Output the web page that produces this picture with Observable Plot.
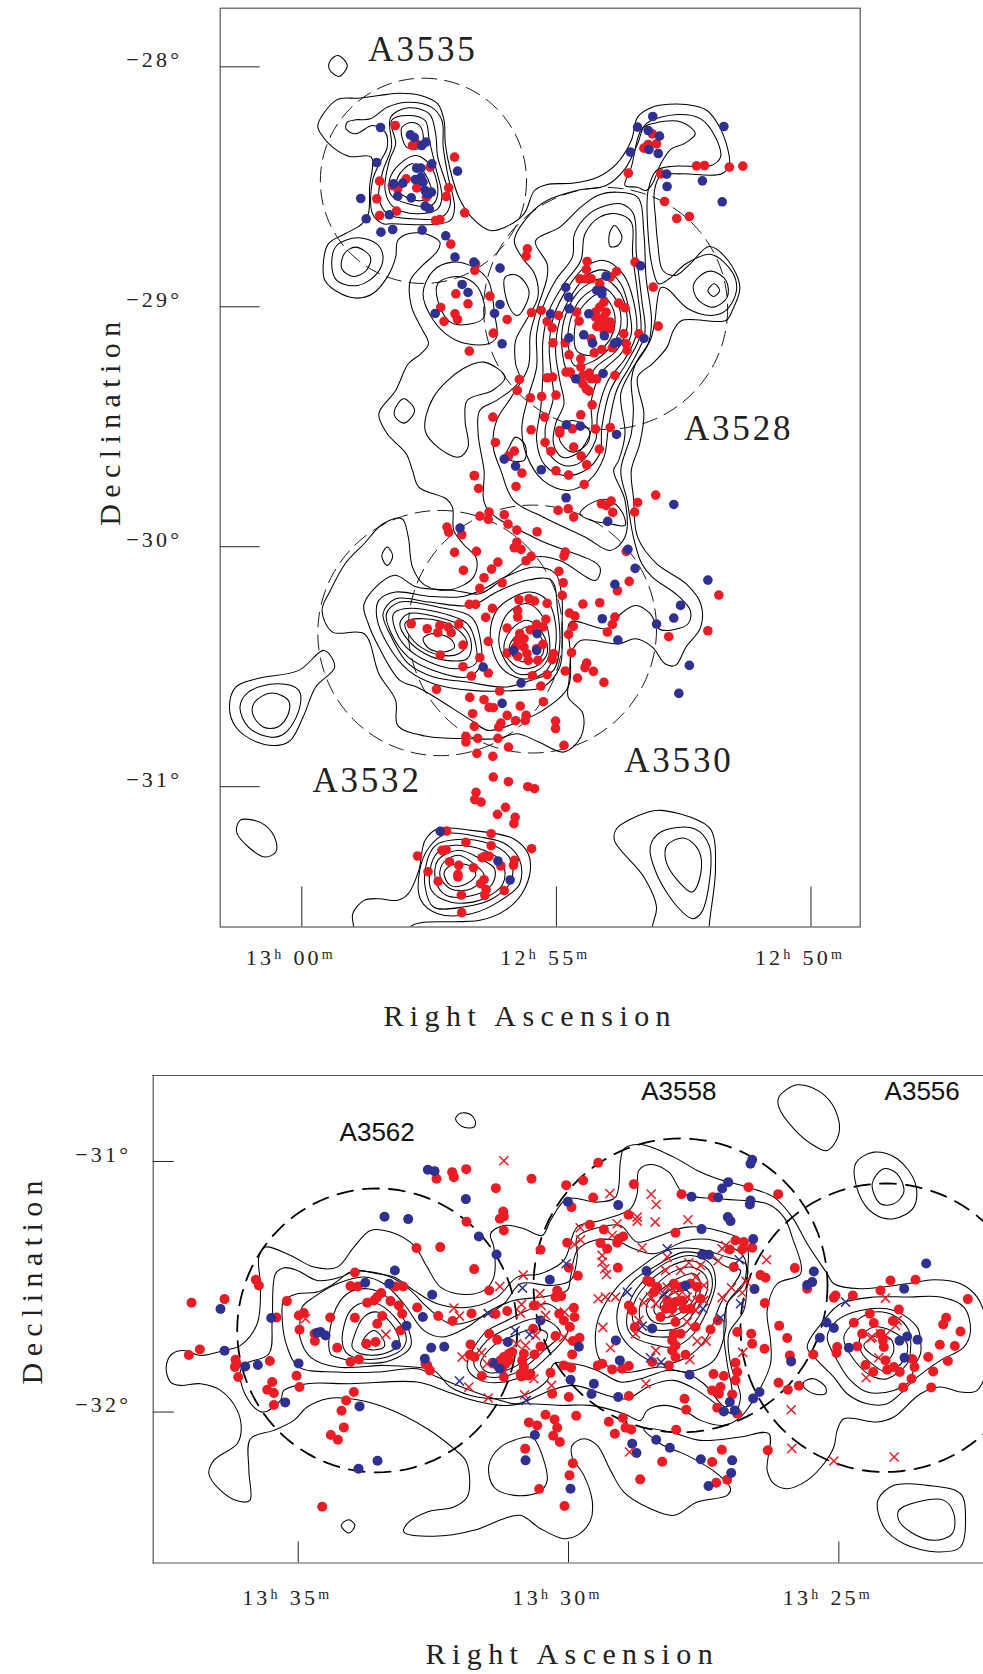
<!DOCTYPE html>
<html><head><meta charset="utf-8">
<script src="https://cdn.jsdelivr.net/npm/d3@7"></script>
<script src="https://cdn.jsdelivr.net/npm/@observablehq/plot@0.6"></script>
<style>
html,body{margin:0;padding:0;background:#fff;overflow:hidden}
svg{display:block}
[aria-label="x-axis tick label"] text,[aria-label="y-axis tick label"] text{letter-spacing:3.2px}
</style></head><body><div id="top"></div><div id="bottom"></div>
<script>
// Digitised plate readings (flat x,y lists); calibrated to RA (minutes) and Dec (degrees) from the tick marks below.
const topRA = x => 780 - (x - 217) / 121;
const topDec = y => -28 - (y - 199) / 720;
const botRA = x => 815 - (x - 443) / 162.2;
const botDec = y => -31 - (y - 273) / 752;
const LOWER = 1410, RIGHT = 1170;

const topTicksRA = [780, 775, 770];
const topTickLabelsRA = ["13h 00m", "12h 55m", "12h 50m"];
const topTicksDec = [-28, -29, -30, -31];
const botTicksRA = [815, 810, 805];
const botTickLabelsRA = ["13h 35m", "13h 30m", "13h 25m"];
const botTicksDec = [-31, -32];
const decLabel = d => "\u2212" + Math.abs(d) + "\u00b0";

const topNames = ["A3535", "A3528", "A3530", "A3532"];
const topNameX = [505, 1255, 1113, 372];
const topNameY = [147, 1285, 2280, 2340];
const botNames = ["A3562", "A3558", "A3556"];
const botNameX = [680, 1585, 2315];
const botNameY = [188, 65, 65];

// cluster circles: centre x, centre y, x radius, y radius
const topCircles = [[506,541,245,308],[939,924,290,363],[765,1886,295,372],[546,1898,291,368]];
const botCircles = [[680,780,420,426],[1590,645,441,441],[2205,772,435,433]];

const topContours = [
[255,375,300,298,350,293,400,285,450,278,500,285,540,310,555,360,558,430,570,510,590,590,620,650,665,690,700,680,745,640,770,570,800,552,860,548,920,530,965,490,1000,420,1015,350,1050,320,1130,312,1180,330,1210,380,1228,440,1233,490,1215,520,1120,520,1070,525,1055,570,1058,660,1063,730,1075,810,1105,825,1140,790,1185,738,1230,780,1258,860,1240,930,1225,960,1120,960,1100,990,1085,1040,1050,1090,1015,1130,1030,1240,1020,1330,1000,1410,1005,1490,1015,1610,1060,1690,1130,1750,1165,1810,1165,1880,1130,1940,1105,1995,1080,1990,1050,1940,1010,1915,970,1930,880,1920,860,1950,852,2040,850,2090,885,2140,880,2210,840,2255,780,2225,730,2200,680,2215,620,2215,510,2207,445,2175,440,2100,400,2020,365,1900,290,1895,265,1830,285,1770,320,1690,365,1630,410,1570,455,1555,470,1610,480,1700,510,1755,570,1768,625,1730,632,1675,600,1630,578,1590,575,1520,560,1495,495,1460,480,1410,465,1360,420,1300,400,1240,440,1170,470,1090,500,1060,518,1030,500,980,478,920,475,840,500,800,540,750,545,725,510,700,470,700,445,720,440,770,420,830,385,880,350,893,310,880,272,840,268,790,280,730,320,700,360,670,375,640,378,560,382,470,330,468,290,440,265,405],
[722,720,760,640,800,600,870,570,940,555,985,505,1015,430,1035,370,1110,342,1165,355,1200,410,1212,470,1190,495,1100,497,1060,510,1040,570,1040,700,1050,800,1065,850,1090,835,1130,790,1190,762,1240,815,1250,870,1225,930,1190,945,1135,925,1085,865,1070,862,1055,970,1045,1020,1010,1090,1000,1140,1005,1230,1000,1300,975,1410,990,1500,1005,1610,1025,1690,1050,1730,1110,1785,1140,1830,1135,1870,1090,1890,1065,1885,1045,1840,1010,1815,975,1840,945,1885,855,1865,855,1960,850,2060,790,2130,730,2165,660,2190,620,2160,520,2080,490,2060,450,2040,400,1940,375,1870,365,1810,435,1725,490,1760,580,1770,640,1780,700,1730,770,1670,830,1680,915,1740,925,1700,775,1615,655,1520,650,1410,636,1300,640,1230,680,1200,735,1140,725,1090,725,1020,750,960,778,890,770,820,740,770],
[1025,385,1055,368,1120,365,1152,400,1125,430,1095,445,1070,490,1050,550,1035,570,1015,560,985,555,1000,500],
[965,575,1015,590,1030,700,1035,830,1048,960,1040,1030,1000,1110,975,1180,985,1300,970,1380,958,1410,985,1500,985,1610,950,1650,890,1610,790,1550,720,1500,690,1410,672,1340,680,1260,715,1190,755,1100,760,1000,775,930,800,830,800,790,772,722,830,680,880,620,920,585],
[975,610,1005,640,1012,760,1025,900,1032,1000,1000,1090,965,1170,945,1290,935,1370,900,1440,850,1470,790,1440,750,1360,740,1280,755,1190,775,1100,775,1000,790,920,820,840,860,770,865,700,900,640,940,615],
[965,640,1000,665,1003,760,1015,880,1022,1000,990,1085,950,1170,930,1280,925,1360,890,1410,840,1425,795,1395,775,1320,785,1220,790,1120,790,1020,805,930,840,850,880,780,890,700,925,650],
[935,780,980,820,1005,900,1012,1000,985,1075,945,1140,920,1240,915,1320,880,1385,840,1395,805,1360,795,1290,815,1190,810,1120,805,1040,815,950,850,860,890,800],
[940,810,975,850,995,930,1000,1000,975,1060,930,1115,905,1200,905,1290,870,1360,835,1370,815,1330,820,1270,840,1210,830,1140,820,1050,830,960,860,880,900,820],
[860,1260,900,1290,895,1330,860,1355,830,1320,835,1280],
[935,835,975,880,990,980,965,1050,920,1095,880,1150,850,1120,835,1040,840,960,870,880,905,845],
[930,860,965,900,975,975,950,1040,905,1085,865,1095,850,1030,855,960,880,895],
[925,880,955,920,960,980,935,1040,900,1065,870,1050,865,990,880,925],
[960,675,978,710,968,735,950,738,948,700],
[710,1340,725,1310,748,1335,745,1380,700,1372],
[700,1130,650,1085,600,1105,530,1190,510,1290,540,1340,590,1370,612,1340,605,1260,610,1200,670,1170],
[460,1195,485,1230,460,1268,437,1245,445,1210],
[303,165,325,195,305,228,282,205,285,180],
[345,358,380,355,420,320,470,305,525,320,550,360,553,440,565,530,580,620,570,660,530,672,430,670,410,670,385,640,385,540,405,480,420,440,415,395,385,375,345,400,322,385,325,365],
[428,350,470,322,520,340,535,400,540,470,560,550,570,610,550,650,480,655,420,640,400,590,410,510,430,440],
[430,360,470,345,510,360,520,420,535,500,550,590,540,625,490,640,435,620,415,570,425,480,440,430],
[455,380,478,366,500,380,502,440,468,442,455,410],
[490,465,525,500,540,580,525,615,470,610,430,585,425,540,450,490],
[480,490,510,520,525,590,490,600,445,570,445,530],
[345,740,380,770,370,810,340,828,312,805,318,760],
[350,712,395,730,410,770,395,820,350,855,300,840,288,790,300,735],
[575,785,625,800,660,840,675,940,680,1010,660,1030,610,1030,570,1010,530,960,505,880,530,810],
[610,835,640,870,650,950,620,970,570,965,540,900,540,850,570,830],
[700,830,730,825,757,875,730,945,710,920],
[1197,850,1210,870,1195,888,1182,870],
[1190,812,1225,840,1228,890,1195,920,1160,900,1147,860,1160,830]
];
const topLowerContours = [
[878,130,905,98,945,88,978,125,985,165,950,160,905,150],
[440,365,520,378,600,378,650,355,700,320,770,290,820,310,835,380,835,470,830,590,790,650,730,660,620,660,530,640,470,600,420,520,395,440,400,390],
[440,385,520,395,620,405,680,365,750,330,810,330,825,420,830,520,815,600,760,630,700,650,610,635,530,620,470,580,430,500,410,430],
[450,395,540,410,620,440,640,500,640,590,610,620,530,600,470,560,430,490,418,430],
[460,415,540,425,610,460,630,520,630,580,580,595,520,575,465,530,437,470,435,430],
[470,430,540,440,600,470,620,520,610,565,560,570,510,550,470,510,450,460],
[475,448,540,450,590,480,610,520,590,550,550,555,500,530,470,490,462,460],
[505,505,525,490,570,505,580,530,555,545,520,535],
[760,365,800,390,820,460,815,560,790,610,740,625,690,590,665,500,680,420,720,380],
[755,400,785,430,805,500,800,570,770,605,730,610,700,570,685,510,700,440,725,410],
[755,450,790,490,800,550,770,590,730,590,700,550,700,510,725,465],
[750,470,785,500,790,550,760,575,725,565,710,530,730,490],
[270,540,295,590,250,650,220,740,190,810,160,825,110,815,60,770,45,710,60,650,110,625,210,600],
[160,640,210,660,210,720,175,790,140,800,90,770,70,710,90,665],
[145,668,185,690,185,730,160,770,125,770,100,730,105,695],
[420,230,433,257,420,285,407,257],
[90,1047,130,1065,155,1110,155,1145,130,1160,90,1130,62,1085,70,1050],
[1050,1370,1060,1310,1030,1220,960,1110,965,1075,1040,1025,1070,1020,1150,1045,1190,1080,1200,1200,1185,1370,1185,1450,1050,1450],
[1070,1085,1150,1075,1185,1125,1185,1240,1165,1330,1145,1345,1110,1310,1060,1210,1045,1130],
[1125,1103,1160,1140,1165,1210,1145,1265,1110,1230,1082,1170,1085,1125],
[340,1370,338,1330,365,1290,400,1285,445,1290,470,1270,495,1200,510,1110,540,1075,620,1080,720,1105,755,1150,760,1200,740,1270,700,1320,640,1350,500,1357,475,1370,475,1450,340,1450],
[560,1090,640,1100,700,1120,735,1170,735,1240,690,1290,620,1330,540,1330,500,1290,497,1200,520,1130],
[570,1110,650,1115,710,1160,715,1230,670,1285,600,1310,530,1310,510,1250,515,1170,535,1125],
[580,1125,650,1140,695,1180,695,1240,640,1290,570,1295,525,1260,525,1180,545,1140],
[590,1140,640,1165,675,1195,670,1240,625,1275,560,1275,535,1230,540,1170],
[590,1155,630,1185,650,1215,620,1255,570,1255,545,1215,555,1175],
[590,1180,620,1190,630,1215,600,1245,570,1245,555,1210,565,1190]
];
const topRedUpper = [439,375,580,470,402,542,395,595,402,645,442,632,432,555,445,565,465,535,490,562,513,590,560,588,566,562,522,500,480,435,490,430,535,660,545,657,604,637,571,731,753,745,750,767,630,790,628,810,583,880,612,910,547,921,581,940,587,957,555,963,664,887,705,957,672,998,615,1052,763,936,786,930,800,963,812,982,827,945,870,935,876,962,814,1027,843,1027,852,1063,880,1075,855,1115,880,1100,845,1115,885,1125,900,1118,905,1135,918,1135,885,1150,893,1165,900,1172,961,1125,800,1132,813,1130,734,1137,729,1170,760,1192,787,1188,821,1184,907,1213,880,1243,794,1250,671,1250,762,1288,830,1290,830,1298,860,1285,915,1286,950,1281,795,1326,809,1353,863,1340,924,1346,881,1367,894,1393,677,1326,722,1352,708,1367,740,1418,821,1411,851,1424,627,1426,895,783,893,807,878,835,892,835,905,835,965,813,950,830,925,850,935,905,925,920,915,935,940,935,915,950,935,950,950,965,925,965,940,975,918,978,950,985,935,990,982,1000,970,908,985,922,1009,785,1052,860,1064,977,1018,1000,988,1030,990,1050,955,1042,930,1047,912,1057,905,1015,1108,654,1138,648,1079,603,1070,520,993,518,1030,443,1040,432,1060,430,1050,400,1155,496,1174,495,1233,500,1265,497];
const topBlueUpper = [404,381,475,403,484,411,512,425,502,435,395,486,526,490,490,503,500,503,587,512,487,537,500,530,505,545,435,550,457,548,510,570,525,575,515,580,445,587,477,592,510,617,520,625,357,594,425,643,370,655,405,695,433,687,503,689,559,706,581,770,626,785,688,803,598,852,612,876,688,912,675,939,534,939,693,1030,844,861,851,890,853,925,899,940,808,940,940,827,918,870,930,870,930,880,887,1003,936,1006,852,1012,908,1028,968,1025,960,1028,1030,1014,933,1119,868,1135,846,1273,879,1277,965,1302,698,1376,725,1397,786,1408,1022,796,1051,348,1015,380,1040,390,1067,407,998,455,1042,447,1064,459,1084,521,1085,558,1169,541,1216,604,1220,378];
const topRedLower = [627,15,637,54,726,48,888,42,1058,74,929,100,940,105,952,92,956,126,1015,96,1008,125,826,120,850,115,863,140,640,137,662,125,660,147,698,133,707,161,728,179,776,184,562,170,566,185,597,193,580,246,632,243,728,215,722,232,738,237,843,245,840,257,762,258,750,271,683,275,668,296,601,300,828,303,650,322,693,337,640,354,838,337,836,375,967,361,995,333,988,243,615,402,630,402,670,414,733,388,757,385,770,392,800,399,885,401,925,397,853,428,866,437,654,441,730,420,730,440,477,460,515,475,545,465,540,487,565,470,572,487,590,461,600,524,660,513,546,554,640,562,705,473,797,447,790,470,775,462,760,478,862,468,851,492,961,440,955,462,943,485,735,490,730,510,745,505,725,530,745,530,790,522,705,548,730,558,752,550,775,535,755,570,778,570,815,550,812,568,858,547,1089,499,1182,481,1208,374,600,589,620,617,660,608,765,616,800,613,843,602,894,578,890,592,910,603,872,623,935,636,785,647,537,657,687,662,616,681,650,688,662,711,672,712,736,707,791,694,623,730,705,735,750,735,748,750,725,751,690,758,685,770,627,768,820,752,820,775,607,798,607,815,635,804,683,804,708,830,840,825,633,849,671,858,672,920,708,934,754,949,770,955,631,966,628,988,643,995,701,1011,682,1032,724,1041,721,1060,561,1082,667,1090,763,1135,667,1126,607,1116,560,1138,550,1140,492,1157,652,1158,645,1162,662,1158,722,1170,720,1185,690,1187,568,1174,590,1185,625,1192,517,1204,588,1212,588,1220,541,1233,650,1228,642,1240,596,1274,655,1258,652,1275,698,1261,597,1327];
const topBlueLower = [593,173,944,153,992,237,1009,294,961,342,1101,102,1182,329,1117,405,1101,443,1060,461,931,445,968,509,1138,585,1113,669,776,490,720,540,775,540,648,590,738,638,693,699,546,1083,683,1172,712,1229,845,82];

const botContours = [
[47,890,65,850,100,840,150,855,222,840,270,825,320,760,330,650,325,560,345,530,420,555,490,590,560,590,610,530,660,480,720,485,790,525,830,590,870,650,940,672,1000,660,1030,620,1030,530,1020,490,1060,465,1120,475,1175,495,1200,450,1250,385,1340,395,1395,380,1410,270,1420,235,1470,222,1570,260,1640,300,1700,325,1790,350,1870,380,1925,440,1970,520,2030,610,2050,640,2130,655,2270,640,2350,628,2430,640,2480,680,2510,760,2515,860,2480,960,2430,965,2370,950,2310,970,2230,1040,2180,1055,2080,1045,2060,1080,2050,1130,2020,1180,1970,1230,1910,1255,1870,1240,1850,1200,1855,1090,1770,1100,1650,1110,1560,1085,1480,1075,1530,1120,1610,1155,1700,1210,1740,1255,1730,1275,1640,1295,1570,1335,1500,1315,1420,1265,1380,1200,1340,1125,1300,1105,1265,1125,1265,1160,1300,1215,1325,1290,1320,1350,1280,1395,1240,1405,1170,1375,1110,1335,1060,1345,970,1380,850,1398,760,1385,770,1360,830,1325,910,1310,950,1280,957,1220,945,1170,910,1135,830,1075,700,1010,600,985,530,985,470,1010,430,1050,370,1080,300,1105,295,1200,298,1290,265,1293,210,1260,175,1210,190,1170,260,1120,272,1080,260,1020,210,960,150,940,90,945,60,935],
[375,610,400,592,440,600,500,630,570,620,620,600,680,610,730,620,790,660,860,700,960,710,1040,680,1100,620,1170,610,1240,570,1280,470,1350,450,1440,415,1460,370,1465,300,1500,282,1555,305,1600,370,1700,385,1850,400,1900,440,1925,500,1950,610,1880,640,1850,720,1860,810,1860,880,1820,970,1770,1040,1720,1065,1650,1050,1600,1020,1540,1005,1490,1020,1470,1050,1420,1030,1320,1005,1230,1005,1130,1000,1050,1005,950,985,880,960,800,935,600,940,470,940,400,960,390,990,340,1025,310,1010,275,950,270,900,285,880,355,850,365,750],
[395,745,400,690,440,670,500,665,550,640,600,605,650,603,720,620,780,660,830,710,900,760,980,745,1060,700,1110,640,1200,645,1260,630,1280,560,1280,500,1350,470,1410,465,1460,515,1530,495,1610,470,1700,480,1785,520,1790,620,1780,720,1735,790,1740,880,1770,980,1750,1030,1710,1010,1640,960,1570,930,1500,945,1430,985,1370,975,1270,945,1200,960,1100,1000,1050,990,960,960,860,920,800,895,680,905,560,905,445,890,410,830],
[448,760,455,710,490,680,560,640,640,620,700,640,760,700,820,780,875,800,950,770,1020,720,1090,690,1170,680,1250,660,1260,620,1280,540,1330,510,1395,510,1450,535,1510,550,1610,510,1690,510,1780,560,1780,640,1730,700,1720,790,1730,880,1745,980,1725,1010,1660,940,1600,905,1550,900,1470,925,1410,935,1340,900,1270,880,1210,880,1190,930,1120,975,1050,985,960,975,900,950,850,900,790,890,700,885,560,890,480,860,448,800],
[1150,1105,1190,1230,1165,1265,1090,1275,1030,1250,1015,1185,1050,1130,1130,1100],
[540,850,550,730,590,670,650,655,710,680,775,780,780,830,720,870,640,878,575,865],
[575,810,600,720,650,695,700,710,765,790,760,830,710,860,630,865,590,850],
[610,800,640,740,680,725,730,770,745,820,700,850,630,850,605,830],
[640,805,670,780,700,810,700,830,660,838,635,825],
[950,890,1000,790,1060,755,1130,720,1190,700,1240,740,1250,790,1200,850,1130,910,1060,935,990,930],
[970,880,1010,810,1080,770,1150,745,1200,755,1230,790,1180,840,1110,900,1050,920,1000,915],
[990,880,1030,825,1090,795,1150,775,1190,790,1170,835,1100,885,1050,905,1010,905],
[915,145,930,128,960,132,975,155,970,170,935,168],
[572,1365,595,1348,613,1365,595,1388]
];
const botRightContours = [
[165,820,175,740,230,650,300,590,380,540,470,535,560,560,615,580,620,620,560,700,555,780,520,870,440,905,360,890,250,905,180,870],
[235,780,235,700,280,630,340,590,430,545,510,560,560,590,600,600,540,700,500,800,440,860,360,880,280,840],
[260,770,270,690,310,630,380,575,450,555,510,580,525,640,500,720,460,790,400,830,330,820,280,800],
[280,760,280,700,320,640,385,590,450,570,505,600,515,650,480,730,430,790,360,800,310,790],
[300,750,300,700,340,650,395,605,450,590,495,615,500,660,465,720,420,770,360,780,320,770],
[320,730,320,700,360,660,410,625,460,610,480,640,470,690,430,740,380,760,340,755],
[340,715,375,670,425,640,460,635,465,675,430,720,385,740,350,735],
[360,700,420,660,445,665,440,695,400,720,365,720],
[800,830,850,750,900,700,1000,680,1100,680,1200,680,1270,710,1290,780,1270,830,1200,870,1130,920,1040,1000,980,1000,920,970,880,920,830,870],
[860,800,890,750,960,720,1060,720,1130,770,1140,810,1140,850,1120,890,1110,930,1060,960,980,965,930,930,890,870],
[910,800,950,750,1000,725,1060,735,1105,780,1110,840,1100,880,1040,925,1000,920,950,880],
[960,800,1000,770,1050,780,1100,820,1090,870,1040,905,1000,885,960,840],
[970,825,1010,795,1050,805,1060,840,1040,870,1005,860],
[790,935,820,925,855,950,855,970,820,970,790,950],
[715,80,770,43,840,65,885,120,895,190,860,240,820,225,760,175,715,110],
[945,280,1000,245,1070,265,1125,340,1120,410,1060,445,1000,430,955,370],
[995,340,1030,295,1070,310,1090,365,1060,400,1020,400],
[1012,1290,1060,1245,1160,1245,1260,1270,1275,1340,1260,1430,1190,1445,1090,1420,1030,1370],
[1075,1320,1130,1295,1210,1290,1240,1330,1235,1390,1180,1410,1110,1385,1075,1350]
];
const botRedLeft = [123,697,222,686,148,837,115,854,255,868,253,890,263,920,258,880,316,628,325,645,378,741,409,692,445,735,460,728,447,778,492,790,493,812,539,741,613,606,600,647,622,648,613,742,560,832,600,875,625,867,648,820,675,815,680,760,695,737,650,697,670,690,680,680,692,668,720,692,745,705,755,730,735,648,758,648,750,780,800,711,863,737,906,752,963,729,798,533,869,530,971,596,1016,660,1060,480,1048,445,1058,423,1060,438,948,454,1170,538,1263,410,1247,344,1298,330,1328,381,1343,277,1143,325,1036,353,905,305,910,320,858,325,947,296,358,872,350,958,365,935,370,968,438,916,447,950,370,1004,610,965,587,990,573,1021,580,1071,541,1094,562,1108,830,885,838,900,825,880,1016,790,960,822,1040,808,958,853,972,860,994,917,1124,1135,1135,1056,1160,1065,1185,1033,1212,1047,1220,1072,1208,1096,1228,1115,1267,1179,1257,1215,1166,1256,1242,1307,515,1309,1277,1036,1255,980,1205,970,1170,828,1152,852,1148,775,1200,907,1135,915,1120,915,1112,918,1150,705,1070,722,1035,731,1250,517,1282,616,1255,592,1318,463,1220,660,1215,680,1232,677,1226,730,1240,750,1258,770,1272,740,1270,712,1215,797,1267,812,1287,802,1265,852,1240,885,1262,892,1342,885,1060,860,1075,850,1085,845,1050,870,1065,880,1040,885,1075,870,1055,895,1060,920,1120,850,1115,870,1120,890,1110,910,1140,910];
const botBlueLeft = [832,298,852,302,946,386,702,439,773,446,985,498,1038,552,1252,394,1198,628,733,600,644,637,716,640,845,673,817,740,768,766,737,824,842,832,881,829,823,865,362,743,210,716,222,841,284,888,322,884,444,879,510,785,525,795,500,787,404,996,627,1008,681,1171,624,1195,1153,1094,1125,1170,1260,1255,1170,750,1072,815,1027,877,1048,895,1285,829,1260,928,1330,940,1323,971];
const botRedCrossLeft = [1060,271,1289,472,1290,508,1272,522,1118,614,1048,648,1168,670,910,713,927,737,1113,702,1110,728,1172,705,1185,735,465,745,706,792,935,860,993,847,955,950,1013,983,1122,973,1203,945,1242,725,1343,685,1098,820,1125,825,1155,795,1240,800,1150,925,1010,880];
const botBlueCrossLeft = [1247,580,1116,653,1013,729,1094,781,1137,792,927,932,1127,990];
const botRedRight = [280,341,423,371,517,380,624,350,713,371,264,433,405,487,190,477,235,505,248,498,230,517,180,518,200,535,232,592,265,977,205,1054,247,1043,223,1090,255,1072,272,1077,407,1078,432,985,437,1018,519,911,550,917,585,930,590,905,585,877,540,950,515,960,535,970,575,972,530,1012,590,1030,673,698,660,614,675,622,763,593,590,785,632,790,635,820,672,835,716,766,740,803,748,855,714,937,742,958,775,946,682,1140,544,1138,515,1175,365,1174,299,1227,527,1237,560,1228,800,655,818,852,880,682,885,675,937,675,1020,660,1050,630,1125,628,1282,686,1075,717,988,730,1000,758,940,757,1057,752,965,790,1217,742,1208,762,1260,783,1243,827,1198,823,1163,860,1222,872,1178,903,1172,951,1113,925,1088,951,1122,890,1115,866,1078,905,1060,890,1035,870,1040,898,975,884,998,905,950,828,890,830,888,848,1030,830,1027,810,1020,790,320,630,330,635,265,705,275,720,283,770,185,880,215,897,245,895,265,887,335,875,385,885,435,853,405,755,400,790,420,790,395,810,405,825,395,840,405,860,465,770,510,777,532,750,580,590,585,510,610,515,635,532,568,537,605,537,360,740,375,715,430,715,480,685,405,695,380,690,340,665,350,650,420,650,450,640,400,640,470,650,425,690,450,715,395,715];
const botBlueRight = [635,268,630,280,563,335,545,354,533,381,453,379,233,404,630,390,628,402,562,440,570,452,483,476,638,506,485,553,505,553,820,603,815,635,800,644,642,656,1157,579,1091,655,858,756,880,773,838,802,925,832,1077,811,1100,798,1131,808,1092,862,752,873,657,965,638,984,568,995,583,1020,550,1023,447,913,233,980,238,870,226,810,335,774,435,645,318,602,275,1120,288,1148,347,1108,388,1132,481,1167,575,1170,572,1208,504,1247];
const botRedCrossRight = [208,369,332,371,347,402,344,455,290,440,290,452,442,448,230,460,215,495,185,555,185,575,193,595,198,612,305,532,195,680,225,680,187,771,210,832,285,790,295,750,310,697,346,840,316,940,555,525,545,535,533,571,678,568,617,633,573,652,605,667,545,681,380,560,445,577,480,585,375,600,420,600,465,620,490,645,350,660,330,680,380,650,400,660,415,675,440,680,470,690,395,730,410,700,440,755,465,720,490,690,345,700,470,812,497,812,607,846,448,868,752,1018,754,1134,880,1172,1061,1160,267,1145,977,922,1015,862,1035,683,990,803,995,800,1065,765,1020,790,1070,750,1035,795];
const botBlueCrossRight = [380,535,596,568,260,665,370,670,487,715,600,700,540,742,305,767,330,862,362,875,915,695];

const RED = "#ed1c24", BLUE = "#2e3192";
const pairs = (flat, dx = 0, dy = 0) => d3.range(0, flat.length, 2).map(i => [flat[i] + dx, flat[i + 1] + dy]);
const toRows = (list, fx, fy, dx = 0, dy = 0) => list.flatMap((c, id) => pairs(c, dx, dy).map(([x, y]) => ({id: dx + "-" + dy + "-" + id, ra: fx(x), dec: fy(y)})));
const dots = (flat, fx, fy, dx = 0, dy = 0) => pairs(flat, dx, dy).map(([x, y]) => ({ra: fx(x), dec: fy(y)}));
const ring = (list, fx, fy) => list.flatMap((c, id) => d3.range(0, 360, 3).map(a => ({id, ra: fx(c[0] + c[2] * Math.cos(a * Math.PI / 180)), dec: fy(c[1] + c[3] * Math.sin(a * Math.PI / 180))})));

const serif = "'Liberation Serif', serif";
function axisLabels(ticksX, labelsX, ticksY, padX, padY, sizeX, sizeY) {
  return [
    Plot.axisX({ticks: ticksX, tickSize: -sizeX, text: null, label: null, stroke: "#222"}),
    Plot.axisY({ticks: ticksY, tickSize: -sizeY, text: null, label: null, stroke: "#222"}),
    Plot.axisX({ticks: ticksX, tickSize: 0, tickPadding: padX, dx: -11, label: null, fontSize: 22, fill: "#222",
      tickFormat: d => labelsX[ticksX.indexOf(d)]}),
    Plot.axisY({ticks: ticksY, tickSize: 0, tickPadding: padY, dy: -7, label: null, fontSize: 22, fill: "#222",
      tickFormat: decLabel})
  ];
}
function finish(svg, nameSpacing) {
  svg.querySelectorAll('[aria-label="x-axis tick label"] text').forEach(t => {
    const m = t.textContent.match(/^(\d+)h (\d+)m$/);
    if (m) t.innerHTML = `${m[1]}<tspan dy="-6" font-size="14">h</tspan><tspan dy="6" dx="9">${m[2]}</tspan><tspan dy="-6" font-size="14">m</tspan>`;
  });
  svg.querySelectorAll("text").forEach(t => {
    const s = t.textContent;
    if (s === "Right Ascension" || s === "Declination") t.style.letterSpacing = "6.4px";
    if (/^A35/.test(s)) t.style.letterSpacing = nameSpacing;
  });
  return svg;
}

const topPlot = Plot.plot({
  width: 983, height: 1060, marginLeft: 219.7, marginRight: 123.3, marginTop: 7.7, marginBottom: 133.5,
  style: {fontFamily: serif, background: "#fff"},
  x: {domain: [topRA(23), topRA(1544)], axis: null},
  y: {domain: [topDec(2780), topDec(23)], axis: null},
  marks: [
    Plot.line(toRows(topContours, topRA, topDec).concat(toRows(topLowerContours, topRA, topDec, 0, LOWER)), {x: "ra", y: "dec", z: "id", curve: "catmull-rom-closed", stroke: "#000", strokeWidth: 1.05, clip: "frame"}),
    Plot.line(ring(topCircles, topRA, topDec), {x: "ra", y: "dec", z: "id", curve: "linear-closed", stroke: "#000", strokeWidth: 0.9, strokeDasharray: "15 8", clip: "frame"}),
    Plot.dot(dots(topRedUpper, topRA, topDec).concat(dots(topRedLower, topRA, topDec, 0, LOWER)), {x: "ra", y: "dec", r: 4.8, fill: RED}),
    Plot.dot(dots(topBlueUpper, topRA, topDec).concat(dots(topBlueLower, topRA, topDec, 0, LOWER)), {x: "ra", y: "dec", r: 4.8, fill: BLUE}),
    ...axisLabels(topTicksRA, topTickLabelsRA, topTicksDec, 22, 38, 40, 40),
    Plot.text(topNames, {x: (d, i) => topRA(topNameX[i]), y: (d, i) => topDec(topNameY[i]), text: d => d, fontSize: 35, fill: "#222"}),
    Plot.text(["Right Ascension"], {frameAnchor: "bottom", dx: -10, dy: 98.5, fontSize: 30, fill: "#222"}),
    Plot.text(["Declination"], {frameAnchor: "left", textAnchor: "middle", rotate: -90, dx: -110, dy: -47, fontSize: 30, fill: "#222"}),
    Plot.frame({stroke: "#555", strokeWidth: 1.2})
  ]
});
document.getElementById("top").appendChild(finish(topPlot, "2.8px"));

const botPlot = Plot.plot({
  width: 983, height: 614, marginLeft: 152.7, marginRight: 0, marginTop: 15, marginBottom: 111.5,
  style: {fontFamily: serif, background: "#fff"},
  x: {domain: [botRA(8), botRA(2499)], axis: null},
  y: {domain: [botDec(1478), botDec(15)], axis: null},
  marks: [
    Plot.line(toRows(botContours, botRA, botDec).concat(toRows(botRightContours, botRA, botDec, RIGHT, 0)), {x: "ra", y: "dec", z: "id", curve: "catmull-rom-closed", stroke: "#000", strokeWidth: 1.05, clip: "frame"}),
    Plot.line(ring(botCircles, botRA, botDec), {x: "ra", y: "dec", z: "id", curve: "linear-closed", stroke: "#000", strokeWidth: 1.8, strokeDasharray: "16 10", clip: "frame"}),
    Plot.dot(dots(botRedLeft, botRA, botDec).concat(dots(botRedRight, botRA, botDec, RIGHT)), {x: "ra", y: "dec", r: 5, fill: RED}),
    Plot.dot(dots(botBlueLeft, botRA, botDec).concat(dots(botBlueRight, botRA, botDec, RIGHT)), {x: "ra", y: "dec", r: 5, fill: BLUE}),
    Plot.dot(dots(botRedCrossLeft, botRA, botDec).concat(dots(botRedCrossRight, botRA, botDec, RIGHT)), {x: "ra", y: "dec", symbol: "times", r: 4.2, stroke: RED, strokeWidth: 1.5}),
    Plot.dot(dots(botBlueCrossLeft, botRA, botDec).concat(dots(botBlueCrossRight, botRA, botDec, RIGHT)), {x: "ra", y: "dec", symbol: "times", r: 4.2, stroke: BLUE, strokeWidth: 1.5}),
    ...axisLabels(botTicksRA, botTickLabelsRA, botTicksDec, 26, 22, 21, 21),
    Plot.text(botNames, {x: (d, i) => botRA(botNameX[i]), y: (d, i) => botDec(botNameY[i]), text: d => d, fontSize: 26, fill: "#111", fontFamily: "'Liberation Sans', sans-serif"}),
    Plot.text(["Right Ascension"], {frameAnchor: "bottom", dx: 4, dy: 101, fontSize: 30, fill: "#222"}),
    Plot.text(["Declination"], {frameAnchor: "left", textAnchor: "middle", rotate: -90, dx: -120.7, dy: -40, fontSize: 30, fill: "#222"}),
    Plot.frame({anchor: "top", stroke: "#555", strokeWidth: 1.2}),
    Plot.frame({anchor: "left", stroke: "#555", strokeWidth: 1.2}),
    Plot.frame({anchor: "bottom", stroke: "#555", strokeWidth: 1.2})
  ]
});
document.getElementById("bottom").appendChild(finish(botPlot, "0px"));
</script></body></html>
